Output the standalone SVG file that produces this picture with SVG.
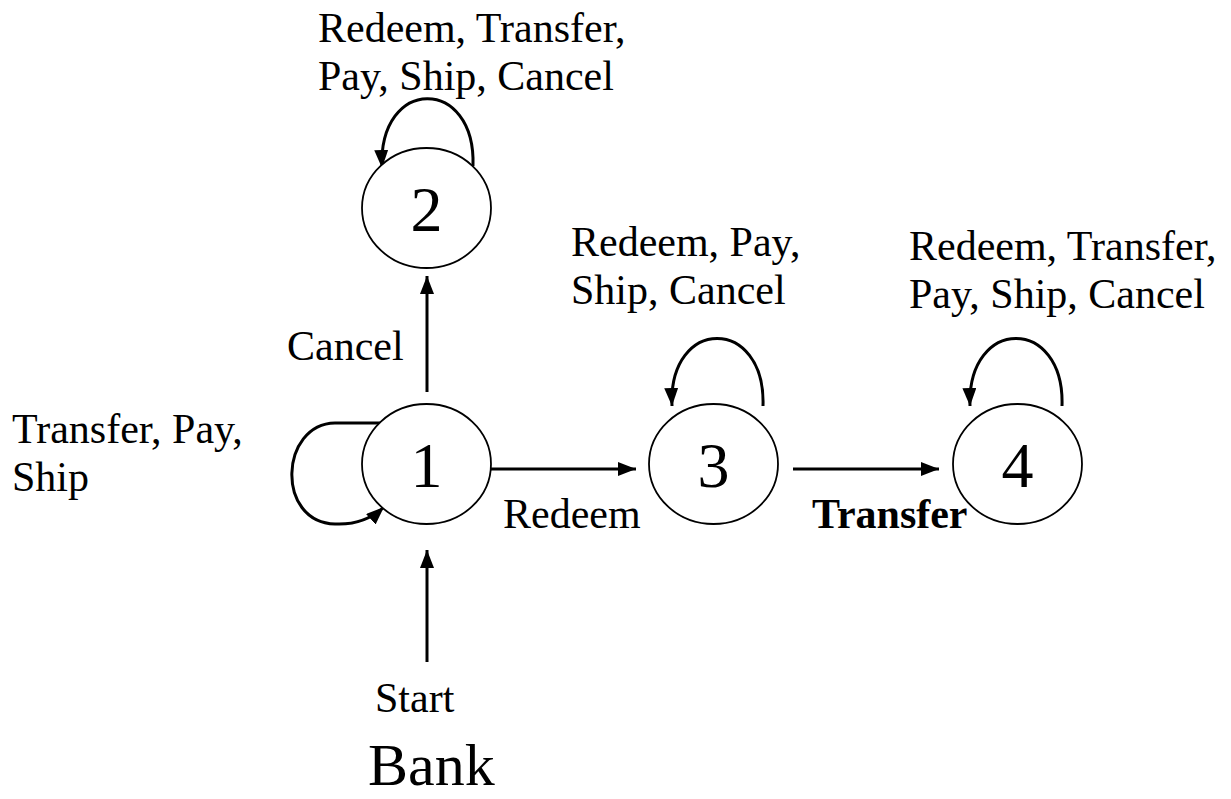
<svg xmlns="http://www.w3.org/2000/svg" width="1231" height="799" viewBox="0 0 1231 799">
<style>
text { font-family: "Liberation Serif", "Times New Roman", serif; fill: #000; }
.lbl { font-size: 42px; }
.num { font-size: 64px; text-anchor: middle; }
.node ellipse { fill: #fff; stroke: #000; stroke-width: 1.8; }
.edge { fill: none; stroke: #000; stroke-width: 3; marker-end: url(#arr); }
</style>
<defs>
<marker id="arr" markerUnits="userSpaceOnUse" markerWidth="20" markerHeight="16" refX="18" refY="7" orient="auto">
<path d="M0,0 L18,7 L0,14 z" fill="#000"/>
</marker>
</defs>
<g id="connectors">
<path class="edge" d="M427 392 L427 276"/>
<path class="edge" d="M491 469 L636 469"/>
<path class="edge" d="M793 469 L939 469"/>
<path class="edge" d="M427 662 L427 550"/>
<path class="edge" d="M473 166 C476 76, 378 76, 382 168"/>
<path class="edge" d="M382 423 L335 423 C280 424, 275 522, 335 524 C355 525, 370 520, 384 507"/>
<path class="edge" d="M763 406 C766 316, 668 316, 672 406"/>
<path class="edge" d="M1062 406 C1065 316, 967 316, 970 406"/>
</g>
<g id="node1" class="node"><ellipse cx="426.5" cy="464" rx="64.5" ry="60"/><text class="num" x="426.5" y="487">1</text></g>
<g id="node2" class="node"><ellipse cx="426.5" cy="208" rx="64.5" ry="60"/><text class="num" x="426.5" y="231">2</text></g>
<g id="node3" class="node"><ellipse cx="713.5" cy="464" rx="64.5" ry="60"/><text class="num" x="713.5" y="487">3</text></g>
<g id="node4" class="node"><ellipse cx="1017.5" cy="464" rx="64.5" ry="60"/><text class="num" x="1017.5" y="487">4</text></g>
<g id="labels">
<text class="lbl" x="318" y="42">Redeem, Transfer,</text>
<text class="lbl" x="318" y="90">Pay, Ship, Cancel</text>
<text class="lbl" x="12" y="443">Transfer, Pay,</text>
<text class="lbl" x="12" y="491">Ship</text>
<text class="lbl" x="571" y="256">Redeem, Pay,</text>
<text class="lbl" x="571" y="304">Ship, Cancel</text>
<text class="lbl" x="909" y="260">Redeem, Transfer,</text>
<text class="lbl" x="909" y="308">Pay, Ship, Cancel</text>
<text class="lbl" x="287" y="360">Cancel</text>
<text class="lbl" x="503" y="528">Redeem</text>
<text class="lbl" x="812" y="528" font-weight="bold">Transfer</text>
<text class="lbl" x="375" y="712">Start</text>
<text x="368" y="785" font-size="60">Bank</text>
</g>
</svg>
